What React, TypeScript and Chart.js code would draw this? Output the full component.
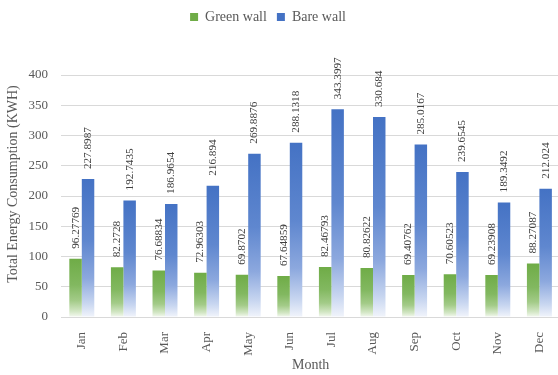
import { useEffect, useRef } from "react";
import { Chart, registerables } from "chart.js";

Chart.register(...registerables);

// Monthly total energy consumption (KWH)
const months = ["Jan", "Feb", "Mar", "Apr", "May", "Jun", "Jul", "Aug", "Sep", "Oct", "Nov", "Dec"];
const greenWall = [96.27769, 82.2728, 76.68834, 72.96303, 69.8702, 67.64859, 82.46793, 80.82622, 69.40762, 70.60523, 69.23908, 88.27087];
const bareWall = [227.8987, 192.7435, 186.9654, 216.894, 269.8876, 288.1318, 343.3997, 330.684, 285.0167, 239.6545, 189.3492, 212.024];

const FONT = "'Liberation Serif', 'Times New Roman', serif";
const TEXT = "#595959";
const GRID = "#d9d9d9";

// Vertical fade from the series colour at the bar top to near-white at the base.
function fadeFill(stops: [number, string][]) {
  return (ctx: any) => {
    const base = stops[0][1];
    if (ctx.type !== "data") return base;
    const chart = ctx.chart;
    const y = chart.scales?.y;
    if (!chart.chartArea || !y) return base;
    const top = y.getPixelForValue(ctx.raw as number);
    const bottom = y.getPixelForValue(0);
    if (!isFinite(top) || !isFinite(bottom) || bottom - top < 1) return base;
    const g = chart.ctx.createLinearGradient(0, top, 0, bottom);
    stops.forEach(([o, c]) => g.addColorStop(o, c));
    return g;
  };
}

const greenFill = fadeFill([
  [0, "#6FAC47"],
  [0.45, "#82B860"],
  [0.72, "#A3CB88"],
  [0.9, "#D2E6C4"],
  [1, "#F4F9F0"],
]);
const blueFill = fadeFill([
  [0, "#4472C4"],
  [0.45, "#5F87CF"],
  [0.72, "#8CA8DE"],
  [0.9, "#C8D6F0"],
  [1, "#F1F4FB"],
]);

// Value labels, rotated, above every bar
const valueLabels = {
  id: "valueLabels",
  afterDatasetsDraw(chart: any) {
    const { ctx } = chart;
    chart.data.datasets.forEach((ds: any, i: number) => {
      const meta = chart.getDatasetMeta(i);
      meta.data.forEach((bar: any, j: number) => {
        ctx.save();
        ctx.translate(bar.x, bar.y - 10);
        ctx.rotate(-Math.PI / 2);
        ctx.font = `11.2px ${FONT}`;
        ctx.fillStyle = "#404040";
        ctx.textAlign = "left";
        ctx.textBaseline = "middle";
        ctx.fillText(String(ds.data[j]), 0, 0);
        ctx.restore();
      });
    });
  },
};

// Legend band height, so the plot starts lower
const legendBand = {
  id: "legendBand",
  beforeInit(chart: any) {
    const legend = chart.legend;
    if (!legend) return;
    const fit = legend.fit;
    legend.fit = function () {
      fit.call(this);
      this.height = 75;
    };
  },
};

// Y axis title
const yTitle = {
  id: "yTitle",
  afterDraw(chart: any) {
    const { ctx } = chart;
    ctx.save();
    ctx.translate(13, 184);
    ctx.rotate(-Math.PI / 2);
    ctx.font = `14px ${FONT}`;
    ctx.fillStyle = TEXT;
    ctx.textAlign = "center";
    ctx.textBaseline = "middle";
    ctx.fillText("Total Energy Consumption (KWH)", 0, 0);
    ctx.restore();
  },
};

export default function App() {
  const ref = useRef<HTMLCanvasElement>(null);

  useEffect(() => {
    if (!ref.current) return;
    const chart = new Chart(ref.current, {
      type: "bar",
      data: {
        labels: months,
        datasets: [
          {
            label: "Green wall",
            data: greenWall,
            backgroundColor: greenFill as any,
            categoryPercentage: 0.6,
            barPercentage: 1,
          },
          {
            label: "Bare wall",
            data: bareWall,
            backgroundColor: blueFill as any,
            categoryPercentage: 0.6,
            barPercentage: 1,
          },
        ],
      },
      options: {
        responsive: false,
        animation: false,
        layout: { padding: { left: -26, right: 0, top: 0, bottom: 0 } },
        plugins: {
          legend: {
            position: "top",
            labels: {
              boxWidth: 8,
              boxHeight: 8,
              padding: 10,
              color: TEXT,
              font: { family: FONT, size: 14 },
            },
          },
          tooltip: { enabled: false },
        },
        scales: {
          x: {
            grid: { display: false },
            border: { display: false },
            ticks: {
              color: TEXT,
              font: { family: FONT, size: 13 },
              minRotation: 90,
              maxRotation: 90,
              padding: 7,
            },
            title: {
              display: true,
              text: "Month",
              color: TEXT,
              font: { family: FONT, size: 14 },
              padding: { top: 0, bottom: 1 },
            },
            afterFit(scale: any) {
              scale.height = 58;
            },
          },
          y: {
            min: 0,
            max: 400,
            grid: { color: GRID, drawTicks: false },
            border: { display: false },
            ticks: {
              stepSize: 50,
              color: TEXT,
              font: { family: FONT, size: 13 },
              padding: 13,
            },
            afterFit(scale: any) {
              scale.width = 87;
            },
          },
        },
      },
      plugins: [valueLabels, legendBand, yTitle],
    });
    return () => chart.destroy();
  }, []);

  return (
    <div style={{ position: "absolute", left: 0, top: 0, width: 558, height: 375, overflow: "hidden", background: "#fff" }}>
      <canvas ref={ref} width={562} height={375} />
    </div>
  );
}
